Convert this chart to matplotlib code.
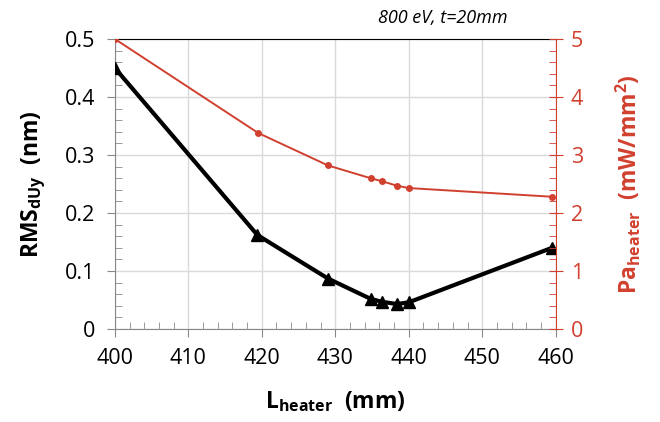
import matplotlib.pyplot as plt
from matplotlib.ticker import MultipleLocator

plt.rcParams['font.family'] = ['Open Sans', 'DejaVu Sans']
plt.rcParams['mathtext.fontset'] = 'custom'
plt.rcParams['mathtext.rm'] = 'Open Sans'
plt.rcParams['mathtext.bf'] = 'Open Sans:bold'

# data
L_rms = [400, 419.4, 429, 434.8, 436.3, 438.4, 440, 459.5]
rms = [0.45, 0.162, 0.087, 0.052, 0.047, 0.043, 0.046, 0.140]

L_pa = [400, 419.5, 429, 434.8, 436.3, 438.4, 440, 459.5]
pa = [5.0, 3.38, 2.82, 2.60, 2.55, 2.47, 2.43, 2.28]

red = '#d1402f'
gray = '#888888'

fig = plt.figure(figsize=(6.6, 4.22), dpi=100)
ax = fig.add_axes([0.174, 0.2204, 0.668, 0.6872])
ax2 = ax.twinx()

ax.plot(L_rms, rms, color='black', lw=3, marker='^', ms=9, zorder=3)
ax2.plot(L_pa, pa, color=red, lw=1.4, marker='o', ms=4)

ax.set_xlim(400, 460)
ax.set_ylim(0, 0.5)
ax2.set_ylim(0, 5)
ax.xaxis.set_major_locator(MultipleLocator(10))
ax.xaxis.set_minor_locator(MultipleLocator(2))
ax.yaxis.set_minor_locator(MultipleLocator(0.02))
ax2.yaxis.set_major_locator(MultipleLocator(1))
ax2.yaxis.set_minor_locator(MultipleLocator(0.2))
ax.set_yticks([0, 0.1, 0.2, 0.3, 0.4, 0.5])
ax.set_yticklabels(['0', '0.1', '0.2', '0.3', '0.4', '0.5'])

ax.grid(True, which='major', color='#d9d9d9', lw=1)
ax.set_axisbelow(True)

for s in ['left', 'bottom']:
    ax.spines[s].set_color(gray)
ax.spines['top'].set_color('black')
ax.spines['right'].set_visible(False)
ax2.spines['left'].set_visible(False)
ax2.spines['top'].set_visible(False)
ax2.spines['bottom'].set_visible(False)
ax2.spines['right'].set_color(red)

ax.tick_params(which='major', direction='out', length=6, color=gray, labelsize=15.5, pad=8)
ax.tick_params(which='minor', direction='in', length=5, color=gray)
ax.tick_params(axis='y', which='both', right=False)
ax2.tick_params(which='major', direction='inout', length=10, color=red, labelcolor=red,
                labelsize=15.5, pad=6)
ax2.tick_params(which='minor', direction='in', length=5, color=red)

ax.set_xlabel(r'$\mathbf{L_{heater}}$  (mm)', fontsize=16.5, fontweight='bold', labelpad=14)
ax.set_ylabel(r'$\mathbf{RMS_{dUy}}$  (nm)', fontsize=16.5, fontweight='bold', labelpad=12)
ax2.set_ylabel(r'$\mathbf{Pa_{heater}}$  (mW/mm$\mathbf{^2}$)', fontsize=16.5, fontweight='bold',
               color=red, labelpad=22)

fig.text(0.671, 0.957, '800 eV, t=20mm', fontsize=13, style='italic', ha='center', va='center')

fig.savefig('out.png', dpi=100)
